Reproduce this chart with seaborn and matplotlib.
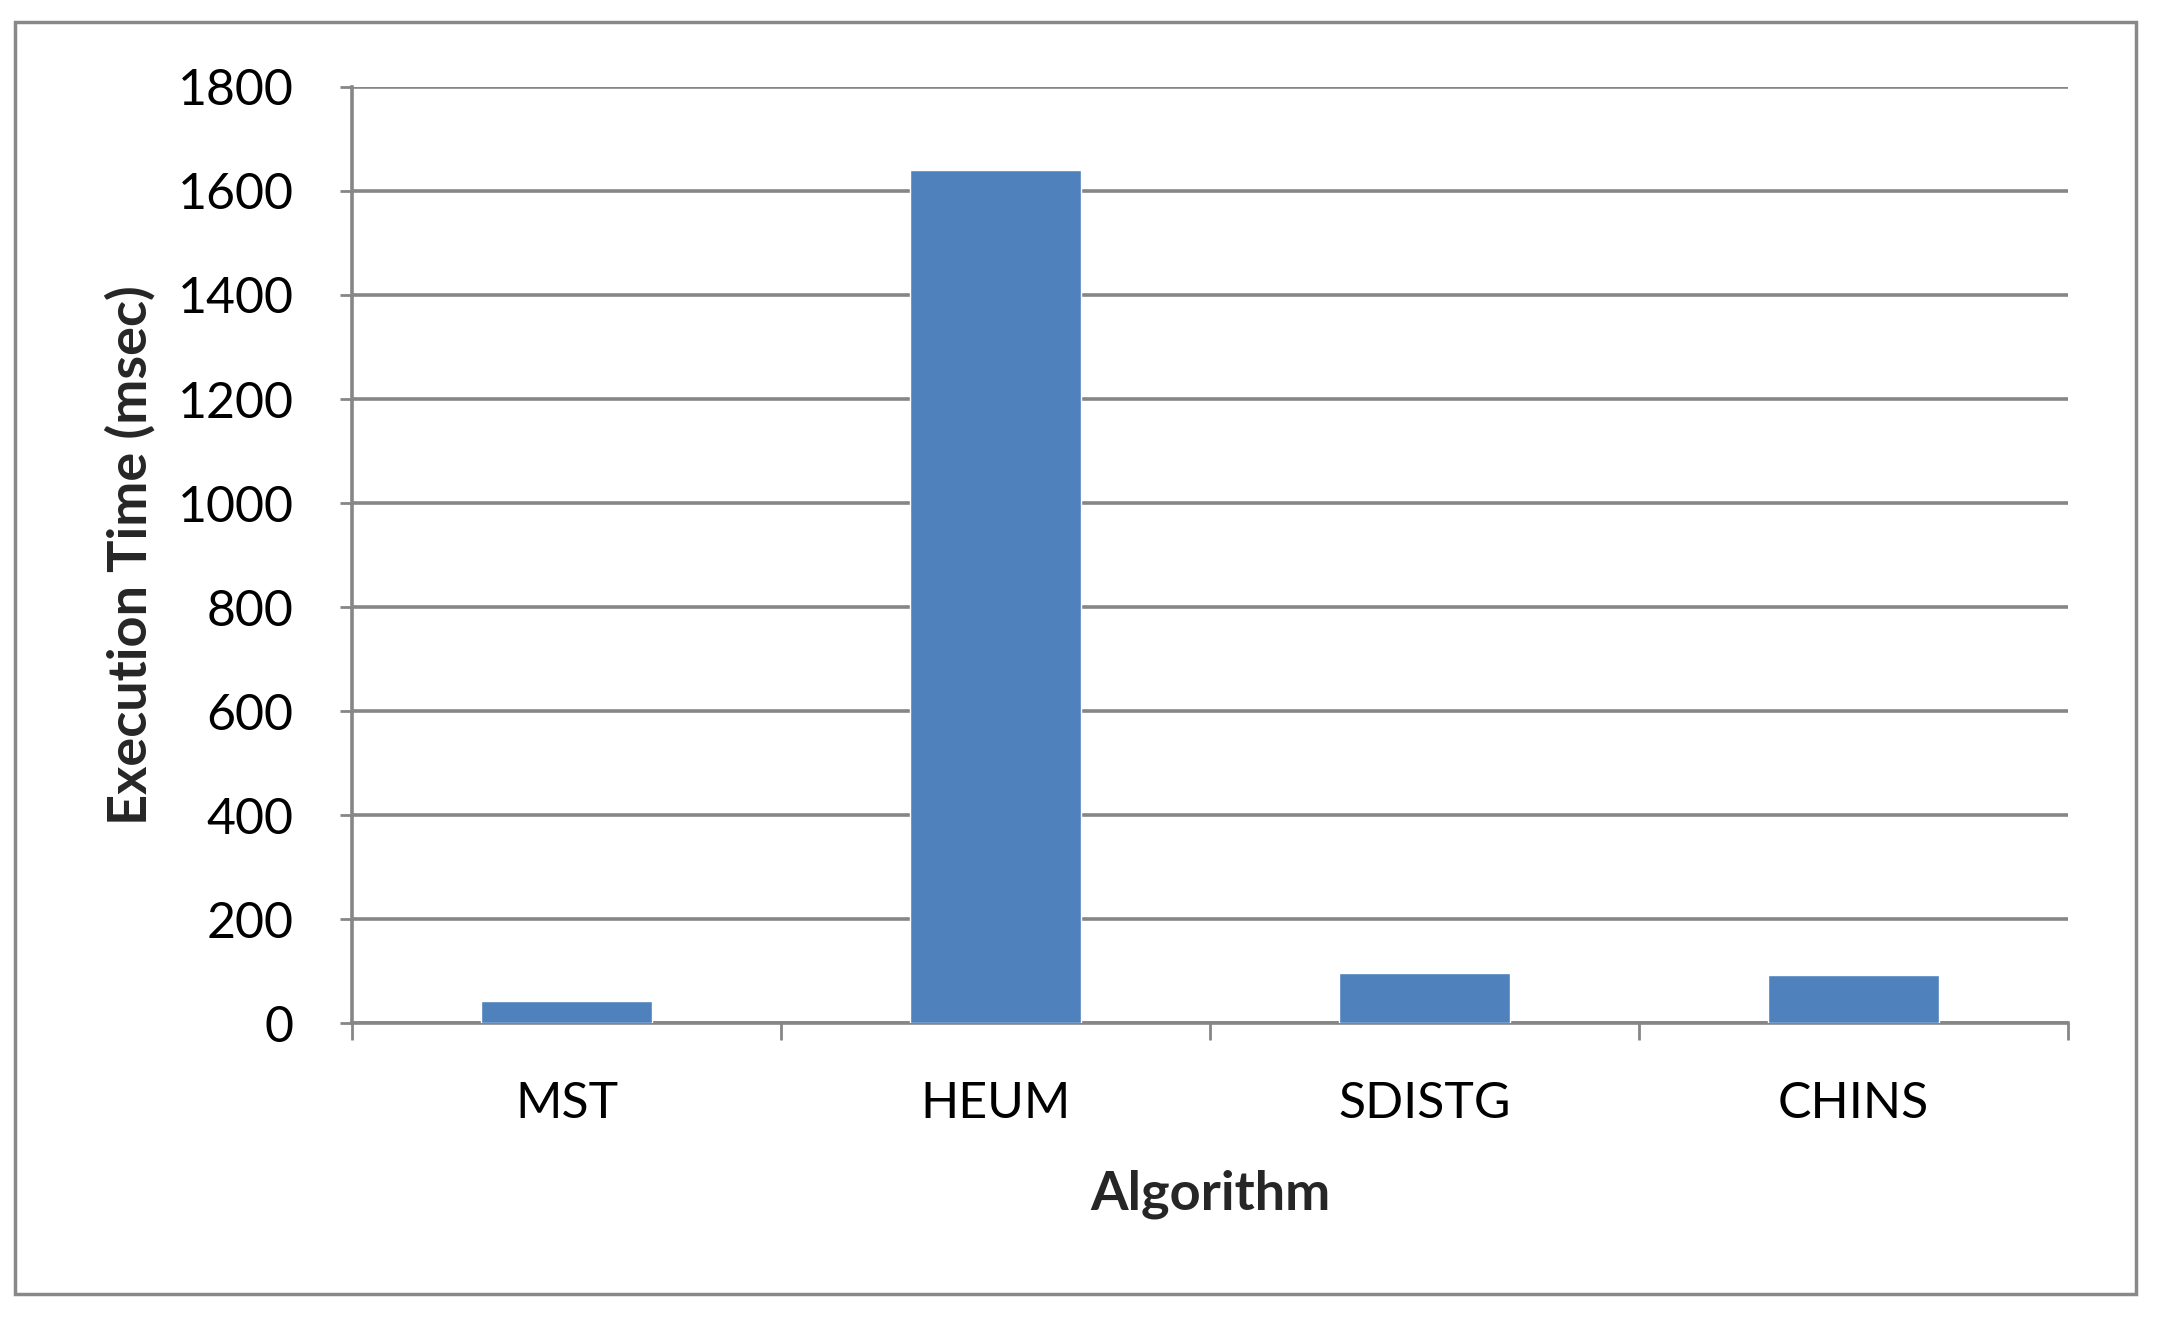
import matplotlib
matplotlib.use("Agg")
import matplotlib.pyplot as plt
import seaborn as sns
import pandas as pd
from matplotlib.patches import Rectangle

# Data
algorithms = ["MST", "HEUM", "SDISTG", "CHINS"]
exec_time_ms = [43, 1641, 96, 92]
y_ticks = [0, 200, 400, 600, 800, 1000, 1200, 1400, 1600, 1800]

df = pd.DataFrame({"Algorithm": algorithms, "time": exec_time_ms})

sns.set_theme(style="white")
plt.rcParams["font.family"] = ["Lato", "DejaVu Sans"]

grid_col = "#868686"
fig = plt.figure(figsize=(21.62, 13.18), dpi=100)
ax = fig.add_axes([0.1628, 0.2238, 0.7937, 0.7102])

sns.barplot(data=df, x="Algorithm", y="time", color="#4F81BD", width=0.4,
            saturation=1, ax=ax, zorder=3)

ax.set_ylim(0, 1800)
ax.set_xlim(-0.5, len(algorithms) - 0.5)
ax.set_yticks(y_ticks)
ax.set_yticklabels([str(t) for t in y_ticks], fontsize=36, color="#000000")
ax.tick_params(axis="y", direction="out", length=9, width=2, color=grid_col, pad=33, left=True)

# category ticks between the bars, Excel style
ax.set_xticks(range(len(algorithms)))
ax.set_xticklabels(algorithms, fontsize=36, color="#000000")
ax.tick_params(axis="x", which="major", length=0, pad=42)
ax.set_xticks([i - 0.5 for i in range(len(algorithms) + 1)], minor=True)
ax.tick_params(axis="x", which="minor", direction="out", length=12, width=2,
               color=grid_col, bottom=True)

ax.yaxis.grid(True, color=grid_col, linewidth=2.6, zorder=0)
ax.set_axisbelow(True)
for s in ["top", "right"]:
    ax.spines[s].set_visible(False)
for s in ["left", "bottom"]:
    ax.spines[s].set_color(grid_col)
    ax.spines[s].set_linewidth(2.6)

ax.set_xlabel("Algorithm", fontsize=39, fontweight="bold", labelpad=30)
ax.set_ylabel("Execution Time (msec)", fontsize=39, fontweight="bold", labelpad=16)

# outer chart frame
fig.patches.append(Rectangle((0.0069, 0.0182), 0.981, 0.965, transform=fig.transFigure,
                             fill=False, edgecolor="#888888", linewidth=2.5))

fig.savefig("out.png", dpi=100, facecolor="white")
